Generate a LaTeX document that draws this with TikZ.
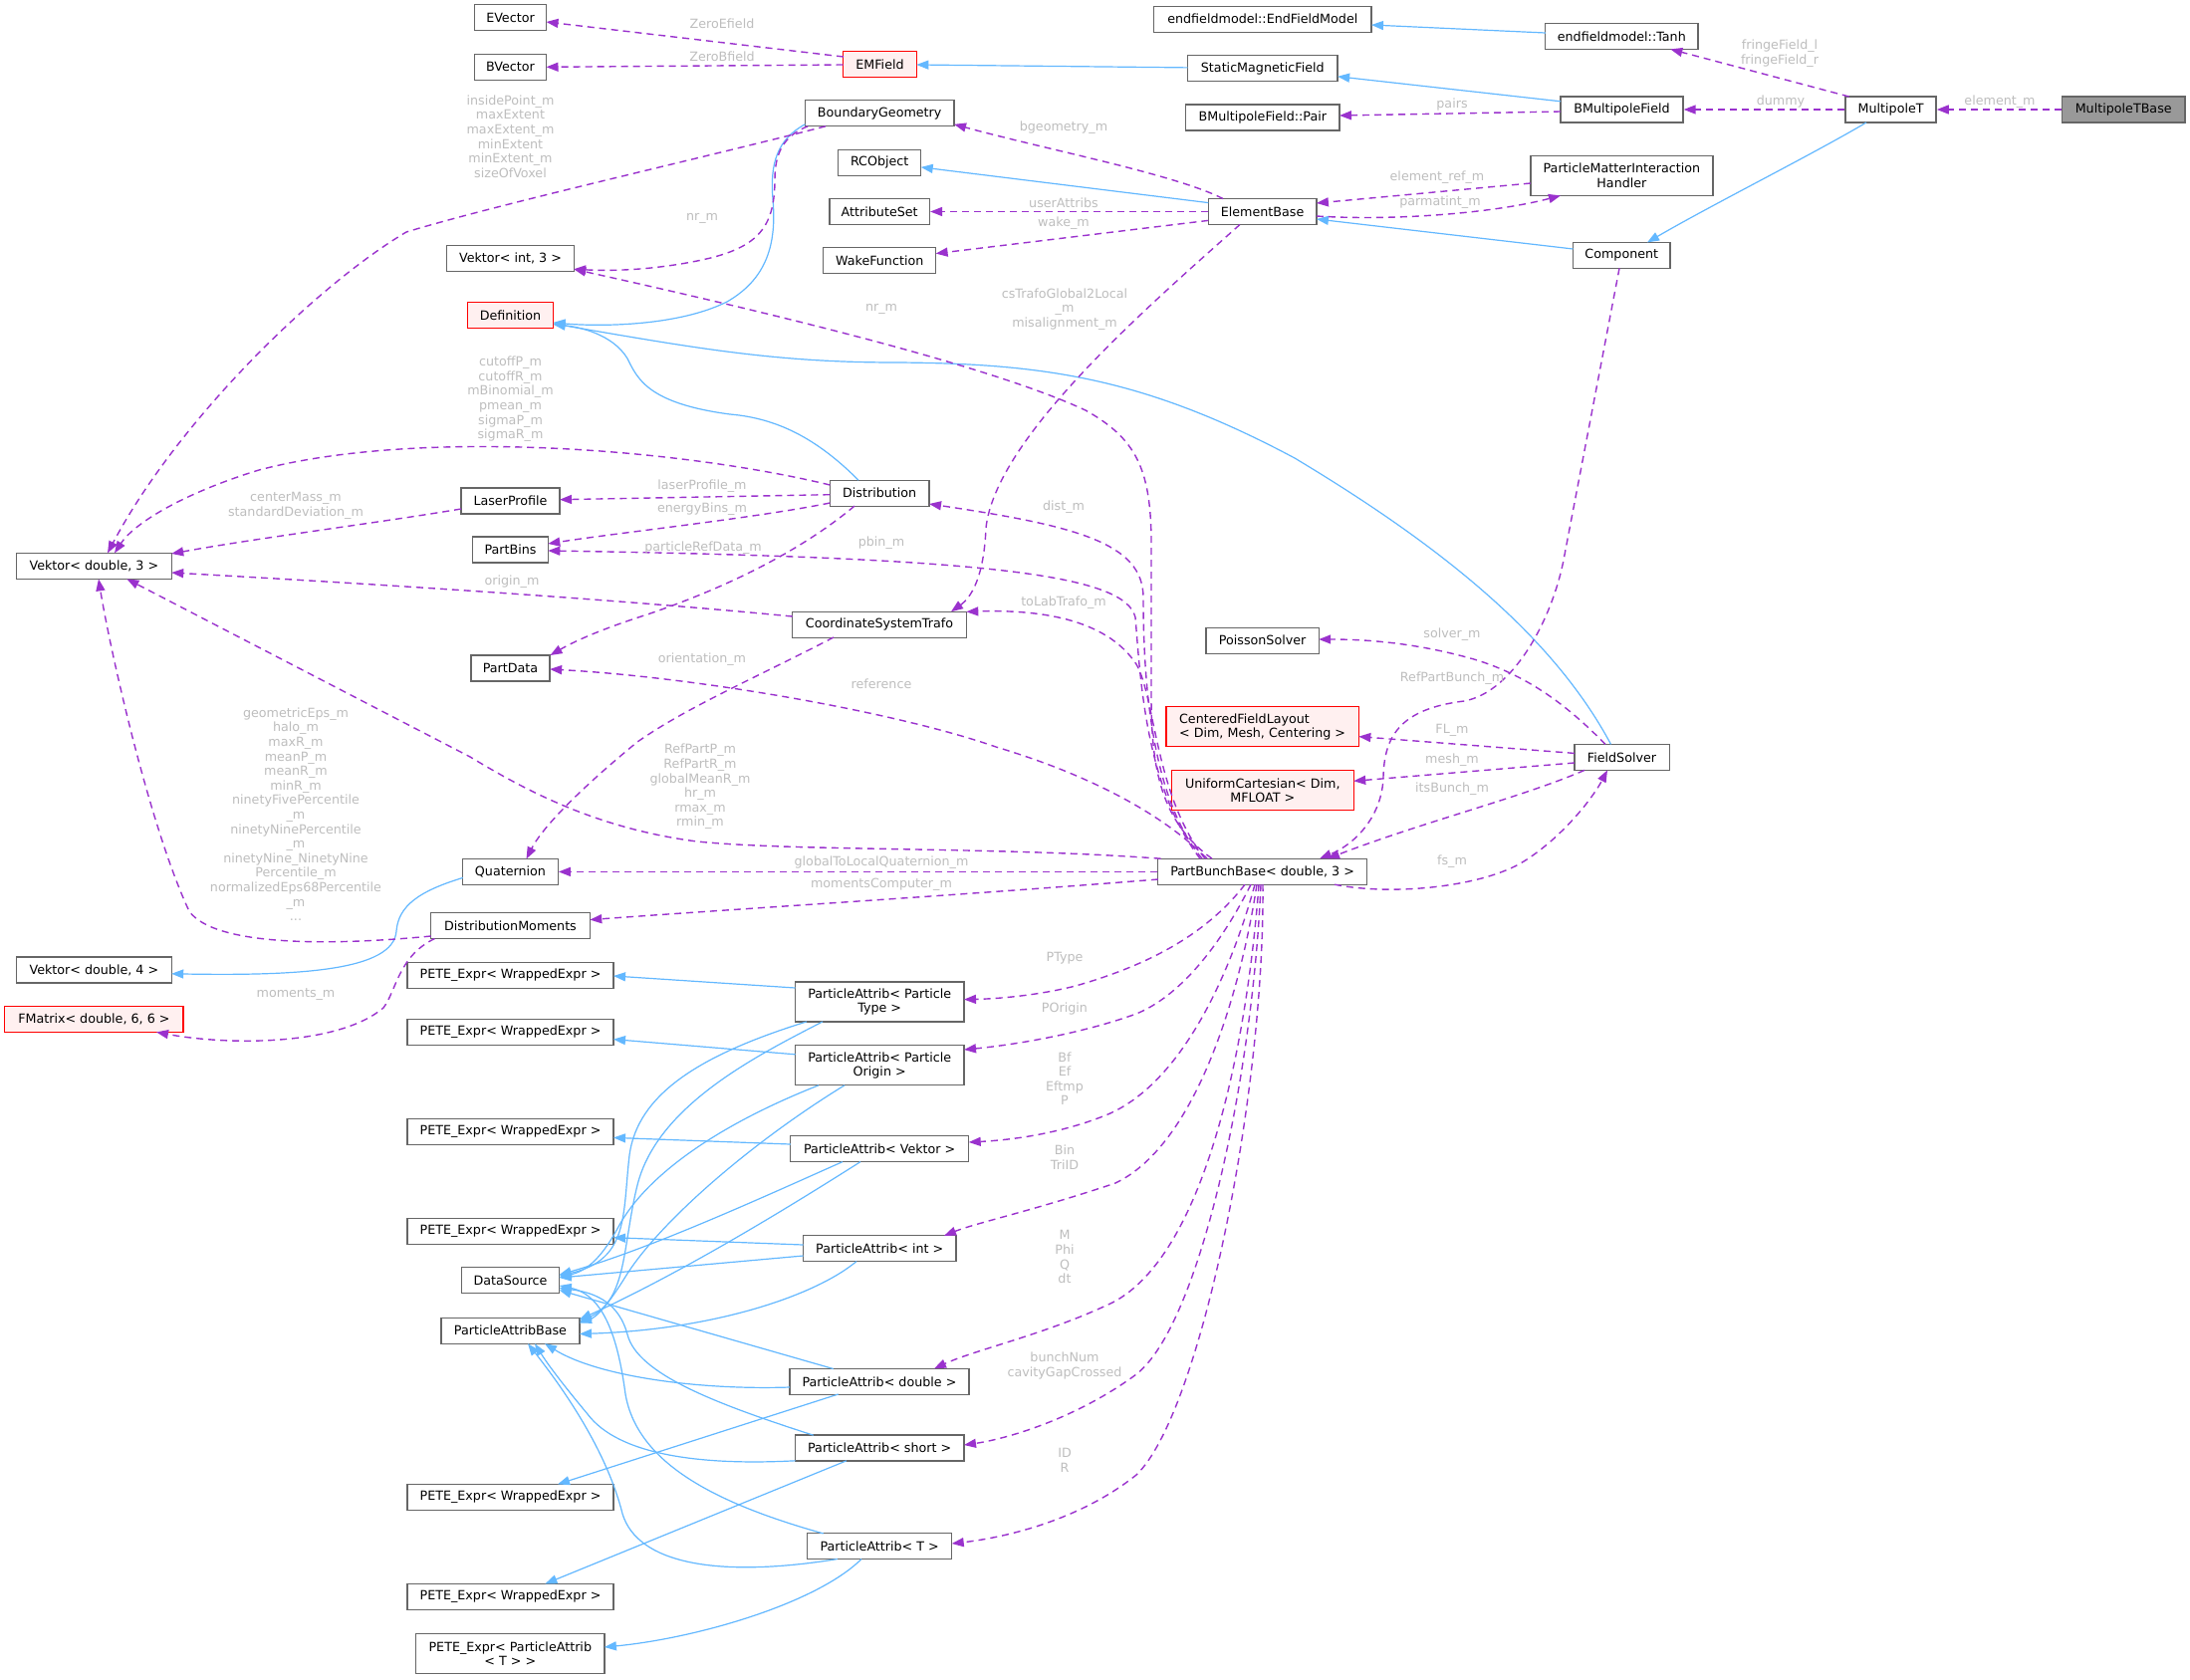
\documentclass[tikz,border=0pt]{standalone}
\usepackage{fontspec}
\setmainfont{DejaVu Sans}
\usetikzlibrary{arrows.meta,calc}
\definecolor{depc}{HTML}{9A32CD}
\definecolor{inhc}{HTML}{63B8FF}
\definecolor{bordc}{HTML}{666666}
\definecolor{lblc}{HTML}{BEBEBE}
\definecolor{redfill}{HTML}{FFF0F0}
\definecolor{hlfill}{HTML}{999999}
\begin{document}
\begin{tikzpicture}[x=1pt,y=-1pt,
  every node/.style={font=\fontsize{12.7}{14.6}\selectfont},
  cls/.style={draw=bordc, fill=white, line width=1.3pt, minimum height=26pt, inner sep=0pt, text=black},
  redcls/.style={cls, draw=red, fill=redfill},
  hlcls/.style={cls, fill=hlfill},
  two/.style={minimum height=40pt, align=center},
  lbl/.style={text=lblc, inner sep=0pt, align=center},
  depedge/.style={draw=depc, line width=1.4pt, dash pattern=on 7pt off 5pt, -{Triangle[length=12pt,width=9pt]}},
  inhedge/.style={draw=inhc, line width=1.2pt, -{Triangle[length=12pt,width=9pt]}}]
\fill[white] (0,0) rectangle (2199,1686);
\useasboundingbox (0,0) rectangle (2199,1686);

% ---------- nodes ----------
\node[cls, minimum width=72pt] (EVector) at (512.5,17.8) {EVector};
\node[cls, minimum width=72pt] (BVector) at (512.5,67.3) {BVector};
\node[redcls, minimum width=73.6pt] (EMField) at (883.5,64.6) {EMField};
\node[cls, minimum width=218.4pt] (EFM) at (1267.8,19.2) {endfieldmodel::EndFieldModel};
\node[cls, minimum width=150.6pt] (SMF) at (1267.8,68.6) {StaticMagneticField};
\node[cls, minimum width=154.3pt] (Pair) at (1267.8,118) {BMultipoleField::Pair};
\node[cls, minimum width=149.6pt] (BG) at (883.2,113.8) {BoundaryGeometry};
\node[cls, minimum width=83pt] (RCO) at (883.2,163.2) {RCObject};
\node[cls, minimum width=100.5pt] (AS) at (883.2,212.5) {AttributeSet};
\node[cls, minimum width=112.8pt] (WF) at (883.2,261.8) {WakeFunction};
\node[cls, minimum width=108.6pt] (EB) at (1267.6,212.5) {ElementBase};
\node[cls, minimum width=153.5pt] (Tanh) at (1628.3,36.4) {endfieldmodel::Tanh};
\node[cls, minimum width=123pt] (BMF) at (1628.5,110) {BMultipoleField};
\node[cls, two, minimum width=183pt] (PMIH) at (1628.4,176.4) {ParticleMatterInteraction\\Handler};
\node[cls, minimum width=97.5pt] (Comp) at (1628.3,256.4) {Component};
\node[cls, minimum width=91pt] (MT) at (1898.6,110) {MultipoleT};
\node[hlcls, minimum width=123.4pt] (MTB) at (2132.2,110) {MultipoleTBase};
\node[cls, minimum width=127.4pt] (VI3) at (512.5,259.3) {Vektor< int, 3 >};
\node[redcls, minimum width=86pt] (Def) at (512.5,316.4) {Definition};
\node[cls, minimum width=99.6pt] (Dist) at (883.2,495.2) {Distribution};
\node[cls, minimum width=99pt] (LP) at (512.5,503) {LaserProfile};
\node[cls, minimum width=75.6pt] (PB) at (512.5,552) {PartBins};
\node[cls, minimum width=155.7pt] (VD3) at (94.4,568.4) {Vektor< double, 3 >};
\node[cls, minimum width=79.2pt] (PD) at (512.5,671) {PartData};
\node[cls, minimum width=174.6pt] (CST) at (883,627.2) {CoordinateSystemTrafo};
\node[cls, minimum width=113.2pt] (PS) at (1267.6,643.2) {PoissonSolver};
\node[redcls, two, align=left, minimum width=193.4pt] (CFL) at (1267.6,729.8) {CenteredFieldLayout\\< Dim, Mesh, Centering >};
\node[redcls, two, minimum width=182.7pt] (UC) at (1267.8,793.8) {UniformCartesian< Dim,\\MFLOAT >};
\node[cls, minimum width=95.3pt] (FS) at (1628.5,760.4) {FieldSolver};
\node[cls, minimum width=209.6pt] (PBB) at (1267.6,875.4) {PartBunchBase< double, 3 >};
\node[cls, minimum width=95.4pt] (Q) at (512.5,875.4) {Quaternion};
\node[cls, minimum width=159.6pt] (DM) at (512.5,929.7) {DistributionMoments};
\node[cls, minimum width=155.7pt] (VD4) at (94.4,974) {Vektor< double, 4 >};
\node[redcls, minimum width=179.3pt] (FM) at (94.4,1023.5) {FMatrix< double, 6, 6 >};
\node[cls, minimum width=207pt] (PE1) at (512.5,979.2) {PETE\_Expr< WrappedExpr >};
\node[cls, minimum width=207pt] (PE2) at (512.5,1036.4) {PETE\_Expr< WrappedExpr >};
\node[cls, minimum width=207pt] (PE3) at (512.5,1136.4) {PETE\_Expr< WrappedExpr >};
\node[cls, minimum width=207pt] (PE4) at (512.5,1236.4) {PETE\_Expr< WrappedExpr >};
\node[cls, minimum width=98.2pt] (DS) at (512.5,1285.5) {DataSource};
\node[cls, minimum width=138.8pt] (PAB) at (512.5,1336.2) {ParticleAttribBase};
\node[cls, minimum width=207pt] (PE5) at (512.5,1503.2) {PETE\_Expr< WrappedExpr >};
\node[cls, minimum width=207pt] (PE6) at (512.5,1603.2) {PETE\_Expr< WrappedExpr >};
\node[cls, two, minimum width=189.3pt] (PET) at (512.3,1660.6) {PETE\_Expr< ParticleAttrib\\< T > >};
\node[cls, two, minimum width=169.5pt] (PAT1) at (883.2,1005.9) {ParticleAttrib< Particle\\Type >};
\node[cls, two, minimum width=169.5pt] (PAO) at (883.2,1069.8) {ParticleAttrib< Particle\\Origin >};
\node[cls, minimum width=178.9pt] (PAV) at (883.2,1153.8) {ParticleAttrib< Vektor >};
\node[cls, minimum width=153.5pt] (PAI) at (883.2,1253.8) {ParticleAttrib< int >};
\node[cls, minimum width=180.2pt] (PAD) at (883,1387.3) {ParticleAttrib< double >};
\node[cls, minimum width=169.5pt] (PAS) at (883.2,1454) {ParticleAttrib< short >};
\node[cls, minimum width=144.9pt] (PAT) at (883.2,1552.7) {ParticleAttrib< T >};

% ---------- inheritance edges ----------
\draw[inhedge] ($(Tanh)+(-76.5,-3.4)$) -- ($(EFM)+(109.2,5.8)$);
\draw[inhedge] ($(SMF)+(-75.3,-0.7)$) -- ($(EMField)+(36.8,0.4)$);
\draw[inhedge] ($(BMF)+(-61.5,-8.2)$) -- ($(SMF)+(75.3,8.2)$);
\draw[inhedge] ($(MT)+(-24.6,13)$) .. controls (1820,155) and (1720,205) .. ($(Comp)+(25.7,-13)$);
\draw[inhedge] ($(Comp)+(-48.8,-6.4)$) -- ($(EB)+(54.3,7.5)$);
\draw[inhedge] ($(EB)+(-54.3,-8.9)$) -- ($(RCO)+(41.5,4.7)$);
\draw[inhedge] ($(BG)+(-74.8,11)$) .. controls (780,140) and (773,165) .. (776,200) .. controls (780,245) and (770,280) .. (730,303) .. controls (680,328) and (600,328) .. ($(Def)+(43,7.5)$);
\draw[inhedge] ($(Dist)+(-21.2,-13)$) .. controls (820,440) and (780,420) .. (733,416) .. controls (650,405) and (640,380) .. (630,360) .. controls (615,335) and (580,328) .. ($(Def)+(43,9.5)$);
\draw[inhedge] ($(FS)+(-11,-13)$) .. controls (1560,640) and (1450,550) .. (1300,460) .. controls (1150,380) and (1050,365) .. (900,364) .. controls (780,364) and (700,350) .. ($(Def)+(43,8.6)$);
\draw[inhedge] ($(Q)+(-47.7,6)$) .. controls (420,895) and (400,910) .. (398,935) .. controls (395,975) and (300,980) .. ($(VD4)+(77.8,3.8)$);

\draw[inhedge] ($(PAT1)+(-84.7,-13.9)$) -- ($(PE1)+(103.5,0.8)$);
\draw[inhedge] ($(PAT1)+(-73.2,20)$) .. controls (700,1060) and (640,1100) .. (632,1160) .. controls (625,1220) and (632,1265) .. ($(DS)+(49.1,-4.5)$);
\draw[inhedge] ($(PAT1)+(-57.2,20)$) .. controls (760,1060) and (660,1110) .. (640,1190) .. controls (625,1250) and (630,1305) .. ($(PAB)+(69.4,-9)$);
\draw[inhedge] ($(PAO)+(-84.7,-11)$) -- ($(PE2)+(103.5,7.2)$);
\draw[inhedge] ($(PAO)+(-61.2,20)$) .. controls (720,1130) and (650,1180) .. (622,1230) .. controls (605,1262) and (590,1276) .. ($(DS)+(49.1,-3)$);
\draw[inhedge] ($(PAO)+(-35.2,20)$) .. controls (750,1150) and (660,1230) .. (628,1282) .. controls (612,1308) and (600,1322) .. ($(PAB)+(69.4,-7.7)$);
\draw[inhedge] ($(PAV)+(-89.4,-4.8)$) -- ($(PE3)+(103.5,6)$);
\draw[inhedge] ($(PAV)+(-37.2,12.8)$) .. controls (760,1205) and (650,1255) .. ($(DS)+(49.1,-5.5)$);
\draw[inhedge] ($(PAV)+(-19.2,12.8)$) .. controls (780,1220) and (680,1280) .. ($(PAB)+(69.4,-11.2)$);
\draw[inhedge] ($(PAI)+(-76.7,-3.8)$) -- ($(PE4)+(103.5,6.3)$);
\draw[inhedge] ($(PAI)+(-76.7,7.2)$) -- ($(DS)+(49.1,-2.5)$);
\draw[inhedge] ($(PAI)+(-23.2,12.8)$) .. controls (820,1300) and (720,1335) .. ($(PAB)+(69.4,3.3)$);
\draw[inhedge] ($(PAD)+(-46.3,-12.8)$) -- ($(DS)+(49.1,10)$);
\draw[inhedge] ($(PAD)+(-90,5.7)$) .. controls (700,1396) and (600,1382) .. ($(PAB)+(34.5,13)$);
\draw[inhedge] ($(PAD)+(-41.3,12.7)$) -- ($(PE5)+(47.5,-12.8)$);
\draw[inhedge] ($(PAS)+(-66.5,-12.8)$) .. controls (720,1410) and (640,1380) .. (630,1340) .. controls (622,1310) and (600,1298) .. ($(DS)+(49.1,8)$);
\draw[inhedge] ($(PAS)+(-84.7,12.8)$) .. controls (700,1472) and (620,1460) .. (590,1420) .. controls (565,1390) and (550,1370) .. ($(PAB)+(24.5,13)$);
\draw[inhedge] ($(PAS)+(-33.2,12.8)$) -- ($(PE6)+(34.9,-12.8)$);
\draw[inhedge] ($(PAT)+(-56.5,-12.8)$) .. controls (720,1510) and (640,1470) .. (628,1400) .. controls (620,1340) and (605,1300) .. ($(DS)+(49.1,5.5)$);
\draw[inhedge] ($(PAT)+(-42.2,12.8)$) .. controls (720,1585) and (640,1570) .. (625,1520) .. controls (610,1460) and (570,1400) .. ($(PAB)+(17.5,13)$);
\draw[inhedge] ($(PAT)+(-18.2,12.8)$) .. controls (820,1610) and (700,1645) .. ($(PET)+(94.6,-6.6)$);

% ---------- usage edges ----------
\draw[depedge] ($(EMField)+(-36.5,-7.6)$) -- ($(EVector)+(36,4.2)$);
\draw[depedge] ($(EMField)+(-36.8,0.4)$) -- ($(BVector)+(36,0)$);
\draw[depedge] ($(BG)+(-54.2,13)$) .. controls (700,160) and (500,205) .. (408,233) .. controls (320,285) and (180,420) .. ($(VD3)+(13.6,-13)$);
\draw[depedge] ($(BG)+(-72,13)$) .. controls (790,135) and (778,150) .. (778,180) .. controls (778,230) and (760,250) .. (700,262) .. controls (650,272) and (610,272) .. ($(VI3)+(63.7,11)$);
\draw[depedge] ($(EB)+(-39.6,-13)$) .. controls (1180,175) and (1050,150) .. ($(BG)+(74.8,11)$);
\draw[depedge] (EB.west) -- (AS.east);
\draw[depedge] ($(EB)+(-54.3,8.9)$) -- ($(WF)+(56.4,-7.2)$);
\draw[depedge] ($(EB)+(-22.6,13)$) .. controls (1150,310) and (1000,440) .. (990,530) .. controls (988,580) and (975,600) .. ($(CST)+(72,-13)$);
\draw[depedge] ($(EB)+(54.3,4.5)$) .. controls (1400,222) and (1500,214) .. ($(PMIH)+(-61.4,20)$);
\draw[depedge] ($(PMIH)+(-91.5,7.6)$) -- ($(EB)+(54.3,-8.5)$);
\draw[depedge] ($(BMF)+(-61.5,2)$) -- ($(Pair)+(77.2,-2)$);
\draw[depedge] ($(MT)+(-42,-13)$) -- ($(Tanh)+(49,13)$);
\draw[depedge] (MT.west) -- (BMF.east);
\draw[depedge] (MTB.west) -- (MT.east);
\draw[depedge] ($(Dist)+(-49.8,-8.2)$) .. controls (680,450) and (420,430) .. (260,472) .. controls (185,495) and (135,525) .. ($(VD3)+(20.6,-13)$);
\draw[depedge] ($(Dist)+(-49.8,1.5)$) -- ($(LP)+(49.5,-1.3)$);
\draw[depedge] ($(Dist)+(-49.8,9.8)$) .. controls (760,520) and (620,535) .. ($(PB)+(37.8,-6)$);
\draw[depedge] ($(Dist)+(-25.2,12.9)$) .. controls (790,565) and (700,600) .. (650,617) .. controls (600,633) and (575,645) .. ($(PD)+(40,-13)$);
\draw[depedge] ($(LP)+(-49.5,8)$) .. controls (380,525) and (260,540) .. ($(VD3)+(77.8,-12.4)$);
\draw[depedge] ($(CST)+(-87.3,-8.2)$) .. controls (600,600) and (350,585) .. ($(VD3)+(77.8,6.6)$);
\draw[depedge] ($(CST)+(-46,12.8)$) .. controls (760,680) and (690,710) .. (640,745) .. controls (585,790) and (545,830) .. ($(Q)+(16,-12.9)$);
\draw[depedge] ($(DM)+(-79.8,10.3)$) .. controls (330,950) and (215,950) .. (190,915) .. controls (150,830) and (110,650) .. ($(VD3)+(4.6,13)$);
\draw[depedge] ($(DM)+(-76,12.8)$) .. controls (400,960) and (398,995) .. (385,1012) .. controls (340,1050) and (230,1050) .. ($(FM)+(62.6,12.9)$);
\draw[depedge] ($(PBB)+(-50.6,-13.2)$) .. controls (1165,825) and (1156,770) .. (1156,700) -- (1156,540) .. controls (1155,470) and (1140,440) .. (1090,412) .. controls (1000,370) and (800,320) .. ($(VI3)+(63.7,11)$);
\draw[depedge] ($(PBB)+(-60.6,-13.2)$) .. controls (1155,800) and (1148,680) .. (1148,600) .. controls (1148,545) and (1080,528) .. ($(Dist)+(49.8,10.8)$);
\draw[depedge] ($(PBB)+(-62.6,-13.2)$) .. controls (1150,790) and (1145,680) .. (1140,620) .. controls (1130,578) and (1000,560) .. ($(PB)+(37.8,1)$);
\draw[depedge] ($(PBB)+(-57.6,-13.2)$) .. controls (1160,800) and (1160,700) .. (1141,667) .. controls (1110,620) and (1040,612) .. ($(CST)+(87.3,-12.9)$);
\draw[depedge] ($(PBB)+(-55.6,-13.2)$) .. controls (1170,820) and (1100,780) .. (1000,750) .. controls (900,715) and (700,680) .. ($(PD)+(39.6,1)$);
\draw[depedge] ($(PBB)+(-102,-13.2)$) .. controls (1000,850) and (800,855) .. (700,845) .. controls (600,832) and (530,795) .. (472,760) -- ($(VD3)+(33,13)$);
\draw[depedge] (PBB.west) -- (Q.east);
\draw[depedge] ($(PBB)+(-104.8,7.6)$) .. controls (950,900) and (750,912) .. ($(DM)+(79.8,-6.1)$);
\draw[depedge] ($(PBB)+(72.4,12.8)$) .. controls (1400,900) and (1490,890) .. (1530,865) .. controls (1570,840) and (1600,800) .. ($(FS)+(-14.5,13)$);
\draw[depedge] ($(PBB)+(-17.6,12.8)$) .. controls (1210,940) and (1150,970) .. (1080,990) .. controls (1040,1000) and (1000,1003) .. ($(PAT1)+(84.8,-2.3)$);
\draw[depedge] ($(PBB)+(-11.6,12.8)$) .. controls (1225,950) and (1185,1000) .. (1141,1018) .. controls (1080,1040) and (1010,1050) .. ($(PAO)+(84.8,-15.8)$);
\draw[depedge] ($(PBB)+(-7.6,12.8)$) .. controls (1235,980) and (1185,1090) .. (1110,1120) .. controls (1060,1140) and (1010,1145) .. ($(PAV)+(89.5,-6.8)$);
\draw[depedge] ($(PBB)+(-5.6,12.8)$) .. controls (1245,1000) and (1200,1150) .. (1120,1188) .. controls (1040,1215) and (980,1228) .. ($(PAI)+(64.8,-13)$);
\draw[depedge] ($(PBB)+(-3.6,12.8)$) .. controls (1252,1050) and (1210,1260) .. (1117,1308) .. controls (1050,1340) and (980,1355) .. ($(PAD)+(55,-13)$);
\draw[depedge] ($(PBB)+(-1.6,12.8)$) .. controls (1258,1080) and (1205,1330) .. (1141,1380) .. controls (1080,1425) and (1010,1445) .. ($(PAS)+(84.8,-3)$);
\draw[depedge] ($(PBB)+(0.4,12.8)$) .. controls (1270,1100) and (1205,1420) .. (1141,1481) .. controls (1080,1530) and (1000,1545) .. ($(PAT)+(72.5,-2.7)$);
\draw[depedge] ($(Comp)+(-2.3,13)$) -- (1571,557) .. controls (1560,620) and (1520,695) .. (1470,704) .. controls (1405,712) and (1390,740) .. (1389,780) .. controls (1388,820) and (1360,848) .. ($(PBB)+(57.4,-13.2)$);
\draw[depedge] ($(FS)+(-16.5,-13)$) .. controls (1580,715) and (1540,680) .. (1480,662) .. controls (1420,645) and (1370,642) .. ($(PS)+(56.6,-1.2)$);
\draw[depedge] ($(FS)+(-47.6,-4)$) -- ($(CFL)+(96.7,9.8)$);
\draw[depedge] ($(FS)+(-47.6,5.6)$) -- ($(UC)+(91.4,-9.5)$);
\draw[depedge] ($(FS)+(-37.5,13)$) .. controls (1530,800) and (1430,825) .. ($(PBB)+(65.4,-13.2)$);

% ---------- edge labels ----------
\node[lbl] (t1) at (725,24) {ZeroEfield};
\node[lbl] (t2) at (725,57) {ZeroBfield};
\node[lbl] (t3) at (512.5,137) {insidePoint\_m\\maxExtent\\maxExtent\_m\\minExtent\\minExtent\_m\\sizeOfVoxel};
\node[lbl] (t4) at (705,219) {nr\_m};
\node[lbl] (t5) at (885,310.7) {nr\_m};
\node[lbl] (t6) at (1068,128) {bgeometry\_m};
\node[lbl] (t7) at (1068,204) {userAttribs};
\node[lbl] (t8) at (1068,224) {wake\_m};
\node[lbl] (t9) at (1069,310.5) {csTrafoGlobal2Local\\\_m\\misalignment\_m};
\node[lbl] (t10) at (1443,178.6) {element\_ref\_m};
\node[lbl] (t11) at (1446,203) {parmatint\_m};
\node[lbl] (t12) at (1458,104.6) {pairs};
\node[lbl] (t13) at (1787,53.9) {fringeField\_l\\fringeField\_r};
\node[lbl] (t14) at (1788,101.8) {dummy};
\node[lbl] (t15) at (2008,101.8) {element\_m};
\node[lbl] (t16) at (512.5,400.8) {cutoffP\_m\\cutoffR\_m\\mBinomial\_m\\pmean\_m\\sigmaP\_m\\sigmaR\_m};
\node[lbl] (t17) at (297,507.9) {centerMass\_m\\standardDeviation\_m};
\node[lbl] (t18) at (705,488) {laserProfile\_m};
\node[lbl] (t19) at (705,511) {energyBins\_m};
\node[lbl] (t20) at (706,550) {particleRefData\_m};
\node[lbl] (t21) at (1068,509.6) {dist\_m};
\node[lbl] (t22) at (885,545.4) {pbin\_m};
\node[lbl] (t23) at (514,584.6) {origin\_m};
\node[lbl] (t24) at (1068,605.4) {toLabTrafo\_m};
\node[lbl] (t25) at (705,661.8) {orientation\_m};
\node[lbl] (t26) at (885,686.4) {reference};
\node[lbl] (t27) at (703,790) {RefPartP\_m\\RefPartR\_m\\globalMeanR\_m\\hr\_m\\rmax\_m\\rmin\_m};
\node[lbl] (t28) at (297,817.6) {geometricEps\_m\\halo\_m\\maxR\_m\\meanP\_m\\meanR\_m\\minR\_m\\ninetyFivePercentile\\\_m\\ninetyNinePercentile\\\_m\\ninetyNine\_NinetyNine\\Percentile\_m\\normalizedEps68Percentile\\\_m\\...};
\node[lbl] (t29) at (885,866.4) {globalToLocalQuaternion\_m};
\node[lbl] (t30) at (885,888.2) {momentsComputer\_m};
\node[lbl] (t31) at (297,998.6) {moments\_m};
\node[lbl] (t32) at (1458,637.5) {solver\_m};
\node[lbl] (t33) at (1458,681.6) {RefPartBunch\_m};
\node[lbl] (t34) at (1458,733.5) {FL\_m};
\node[lbl] (t35) at (1458,763) {mesh\_m};
\node[lbl] (t36) at (1458,792) {itsBunch\_m};
\node[lbl] (t37) at (1458,865) {fs\_m};
\node[lbl] (t38) at (1069,962.5) {PType};
\node[lbl] (t39) at (1069,1012.5) {POrigin};
\node[lbl] (t40) at (1069,1083.2) {Bf\\Ef\\Eftmp\\P};
\node[lbl] (t41) at (1069,1162.1) {Bin\\TriID};
\node[lbl] (t42) at (1069,1262.2) {M\\Phi\\Q\\dt};
\node[lbl] (t43) at (1069,1371.4) {bunchNum\\cavityGapCrossed};
\node[lbl] (t44) at (1069,1466.2) {ID\\R};
\end{tikzpicture}
\end{document}
